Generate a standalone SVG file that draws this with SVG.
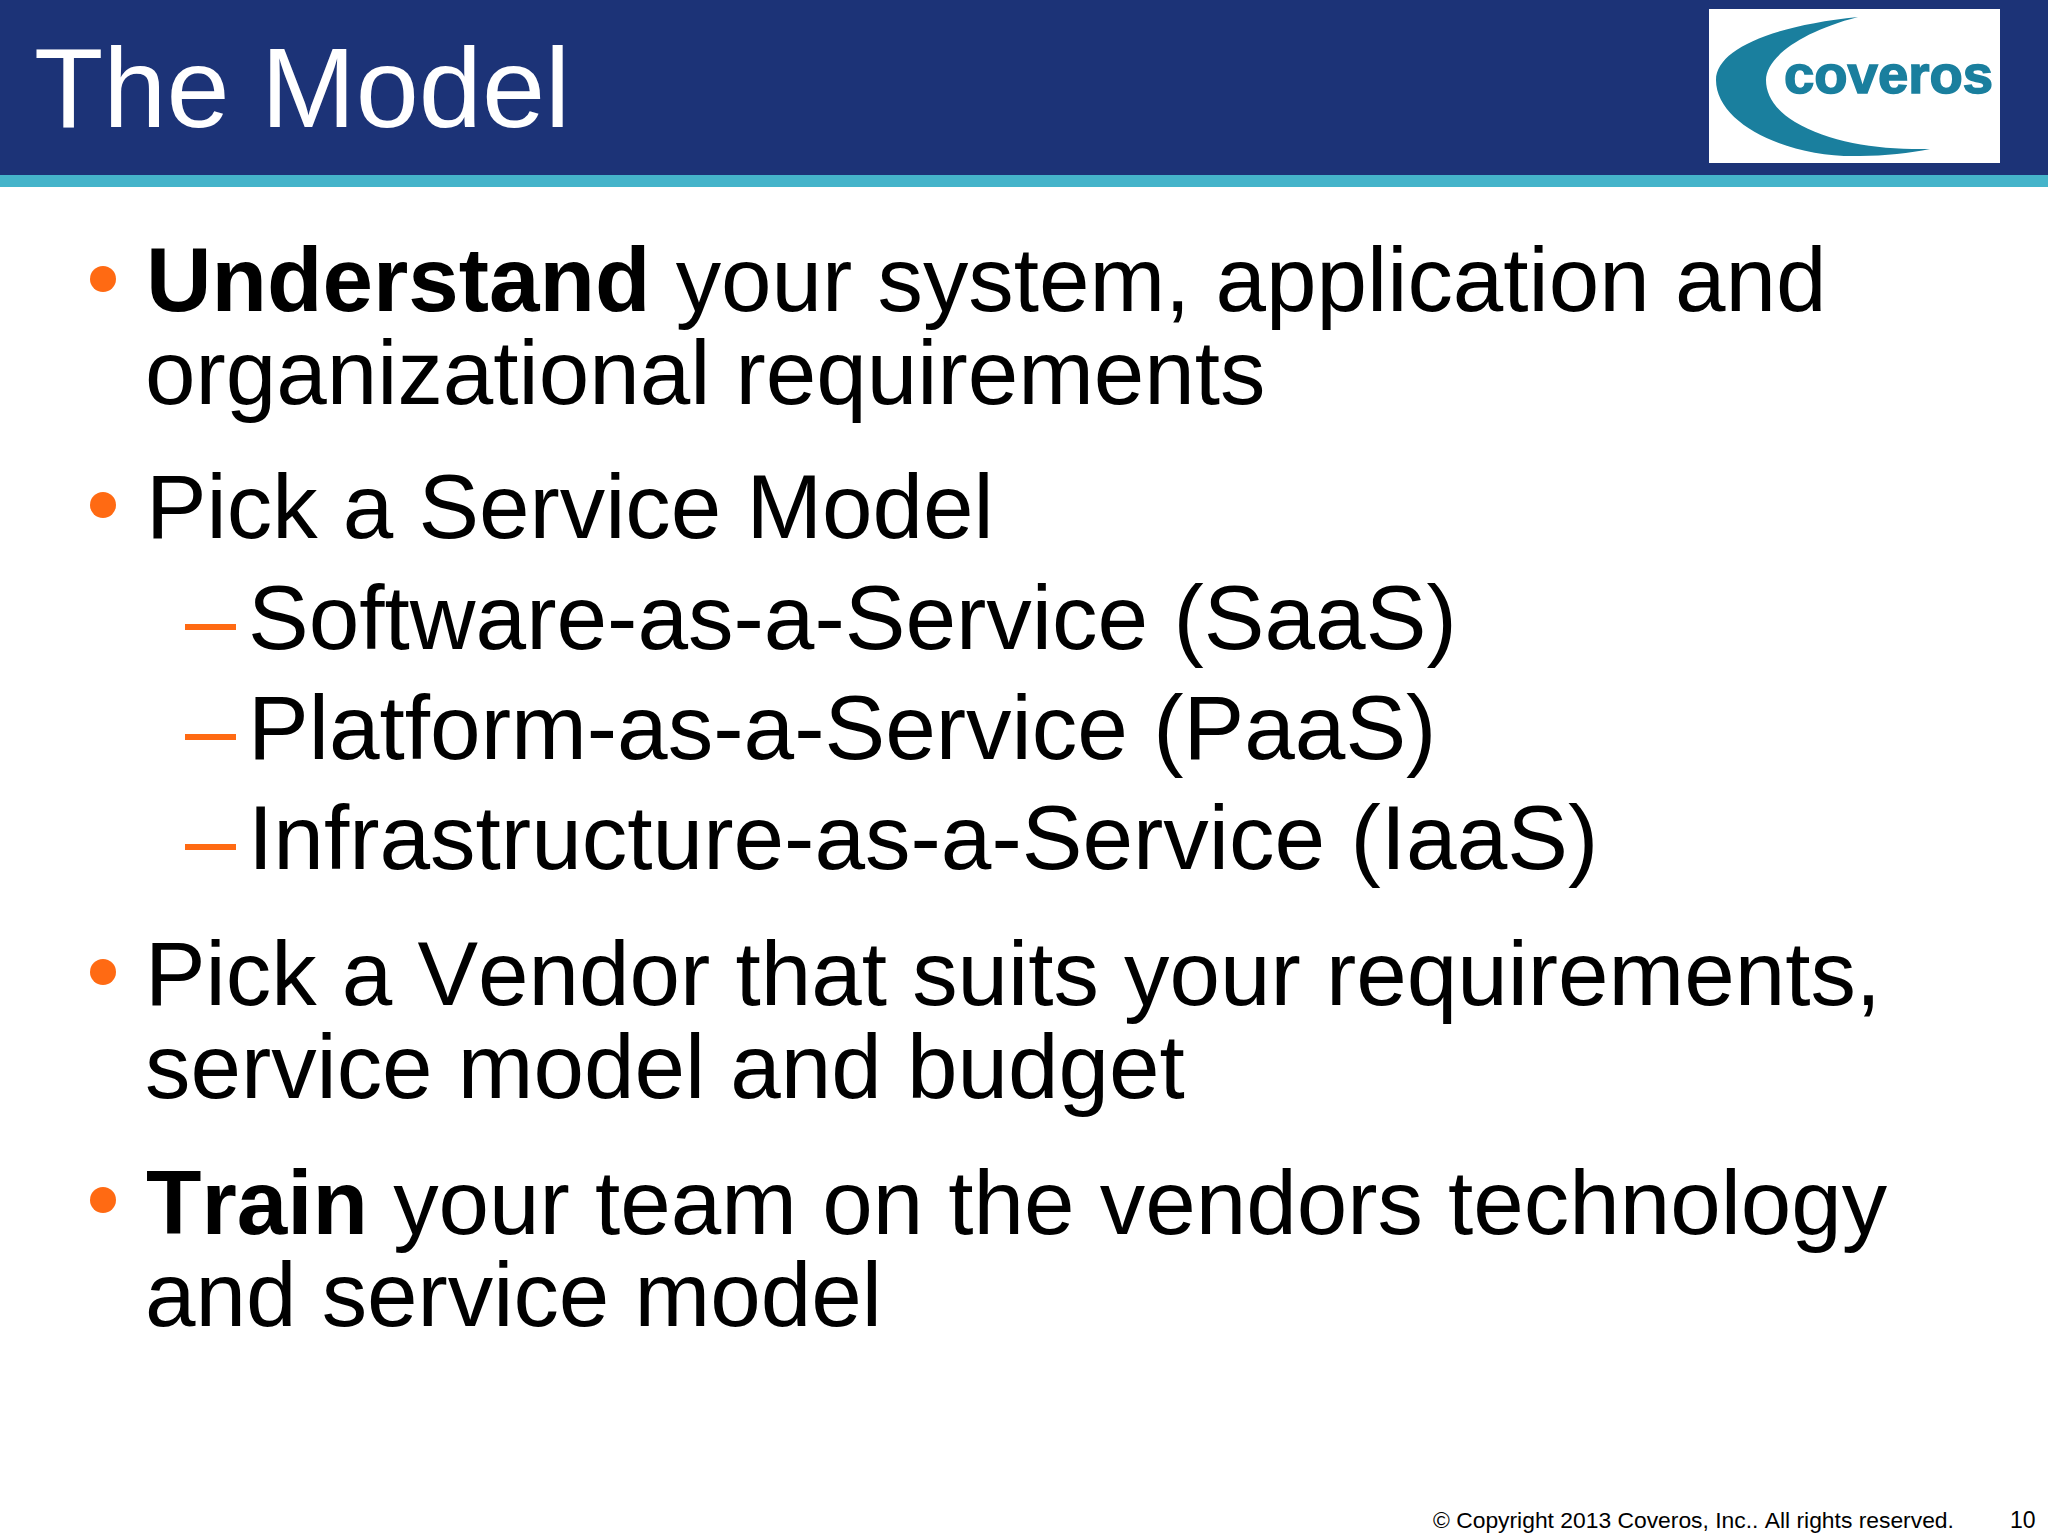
<svg xmlns="http://www.w3.org/2000/svg" width="2048" height="1536" viewBox="0 0 2048 1536">
<style>
text{font-family:"Liberation Sans",Arial,sans-serif;fill:#000;font-kerning:none}
.b{font-size:90.8px}
.s{font-size:91px}
.t{font-weight:700}
.bu{fill:#ff6a13}
</style>
<rect width="2048" height="1536" fill="#fff"/>
<rect width="2048" height="175" fill="#1c3377"/>
<rect y="175" width="2048" height="12" fill="#45b4ca"/>
<text x="34" y="127" font-size="113.5" style="fill:#fff">The Model</text>
<g id="logo">
<rect x="1709" y="9" width="291" height="154" fill="#fff"/>
<path d="M1858 17C1770 26 1716 50 1716 80C1716 125 1790 158 1860 156C1885 156 1910 153 1930 149C1880 150 1830 143 1795 122C1775 110 1766 95 1766 80C1766 58 1800 32 1858 17Z" fill="#1a7f9e"/>
<text x="1784" y="93" font-size="53" class="t" textLength="209" lengthAdjust="spacingAndGlyphs" style="fill:#1a7f9e;stroke:#1a7f9e;stroke-width:1.5">coveros</text>
</g>
<circle class="bu" cx="103" cy="279" r="13"/>
<text class="b" x="146" y="311"><tspan class="t">Understand</tspan> your system, application and</text>
<text class="b" x="145" y="404">organizational requirements</text>
<circle class="bu" cx="103" cy="505" r="13"/>
<text class="b" x="146" y="538">Pick a Service Model</text>
<rect class="bu" x="185" y="624" width="51" height="6"/>
<text class="s" x="248" y="649">Software-as-a-Service (SaaS)</text>
<rect class="bu" x="185" y="734" width="51" height="6"/>
<text class="s" x="248" y="759">Platform-as-a-Service (PaaS)</text>
<rect class="bu" x="185" y="844" width="51" height="6"/>
<text class="s" x="248" y="869">Infrastructure-as-a-Service (IaaS)</text>
<circle class="bu" cx="103" cy="972" r="13"/>
<text class="b" x="145" y="1005">Pick a Vendor that suits your requirements,</text>
<text class="b" x="145" y="1098">service model and budget</text>
<circle class="bu" cx="103" cy="1200" r="13"/>
<text class="b" x="146" y="1234"><tspan class="t">Train</tspan> your team on the vendors technology</text>
<text class="b" x="145" y="1326">and service model</text>
<text x="1433" y="1528" font-size="22.85">© Copyright 2013 Coveros, Inc.. All rights reserved.</text>
<text x="2010" y="1528" font-size="23">10</text>
</svg>
